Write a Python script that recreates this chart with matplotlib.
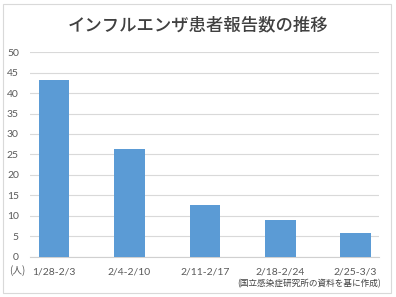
import matplotlib.pyplot as plt
from matplotlib.patches import Rectangle

plt.rcParams['font.family'] = ['Noto Sans CJK JP', 'DejaVu Sans']

# データ
weeks = ['1/28-2/3', '2/4-2/10', '2/11-2/17', '2/18-2/24', '2/25-3/3']
patients = [43.2, 26.2, 12.5, 9.0, 5.8]
yticks = [0, 5, 10, 15, 20, 25, 30, 35, 40, 45, 50]

W, H = 396, 297
fig = plt.figure(figsize=(W / 100, H / 100), dpi=100)
fig.patch.set_facecolor('white')

# 外枠
fig.patches.append(Rectangle((3 / W, 1 - 293 / H), 388 / W, 289 / H,
                             transform=fig.transFigure, fill=False,
                             edgecolor='#d9d9d9', linewidth=0.8))

ax = fig.add_axes([30 / W, 1 - 256.5 / H, 349 / W, 204.2 / H])
x = range(len(weeks))
ax.bar(x, patients, width=0.405, color='#5b9bd5', zorder=3)

ax.set_xlim(-0.32, 4.31)
ax.set_ylim(0, 50)
ax.set_yticks(yticks)
ax.set_xticks(list(x))
ax.set_xticklabels(weeks)
ax.grid(axis='y', color='#d9d9d9', linewidth=0.8, zorder=0)
for s in ['top', 'right', 'left']:
    ax.spines[s].set_visible(False)
ax.spines['bottom'].set_color('#d0d0d0')
ax.spines['bottom'].set_linewidth(0.8)
ax.tick_params(axis='both', length=0, colors='#595959', labelsize=7.5)
ax.tick_params(axis='y', pad=8)
ax.tick_params(axis='x', pad=8)
for lbl in ax.get_xticklabels() + ax.get_yticklabels():
    lbl.set_family(['Lato', 'DejaVu Sans'])

fig.text(198 / W, 1 - 25 / H, 'インフルエンザ患者報告数の推移', ha='center', va='center',
         fontsize=12.5, fontweight='medium', color='#404040')
fig.text(17 / W, 1 - 271 / H, '(人)', ha='center', va='center', fontsize=7,
         color='#595959')
fig.text(381 / W, 1 - 284 / H, '(国立感染症研究所の資料を基に作成)', ha='right',
         va='center', fontsize=6.2, color='#404040')

fig.savefig('out.png', dpi=100)
